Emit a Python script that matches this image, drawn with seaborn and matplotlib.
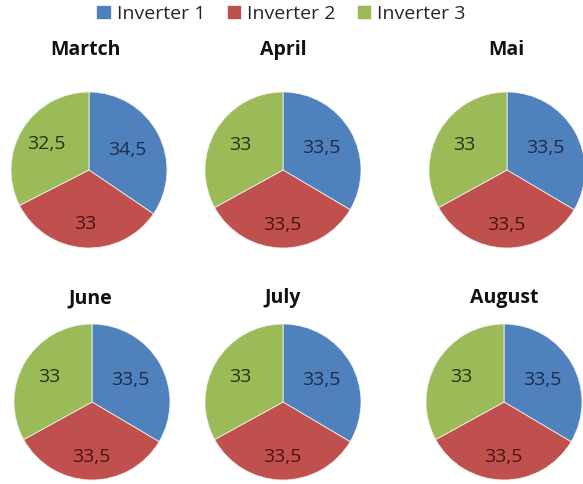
import matplotlib
matplotlib.use("Agg")
import matplotlib.pyplot as plt
import numpy as np
import seaborn as sns

# Share of production per inverter, by month
months = ["Martch", "April", "Mai", "June", "July", "August"]
inverters = ["Inverter 1", "Inverter 2", "Inverter 3"]
inverter_1 = [34.5, 33.5, 33.5, 33.5, 33.5, 33.5]
inverter_2 = [33.0, 33.5, 33.5, 33.5, 33.5, 33.5]
inverter_3 = [32.5, 33.0, 33.0, 33.0, 33.0, 33.0]

sns.set_theme(style="white")
plt.rcParams["font.family"] = ["Open Sans", "DejaVu Sans"]

palette = sns.color_palette(["#4F81BD", "#C0504D", "#9BBB59"])
label_colors = ["#1d2c4a", "#4a1414", "#25360f"]
label_radius = [0.56, 0.70, 0.64]

W, H = 583, 484
fig = plt.figure(figsize=(W / 100, H / 100), dpi=100)
fig.patch.set_facecolor("white")

R = 78
centers = [(89, 170), (283, 170), (507, 170),
           (92, 402), (283, 402), (504, 402)]
title_pos = [(85, 50), (283, 50), (506, 50),
             (90, 298), (283, 298), (504, 298)]


def fmt(v):
    return f"{v:g}".replace(".", ",")


legend_handles = None
for i, month in enumerate(months):
    cx, cy = centers[i]
    ax = fig.add_axes([(cx - R) / W, 1 - (cy + R) / H, 2 * R / W, 2 * R / H])
    vals = [inverter_1[i], inverter_2[i], inverter_3[i]]
    wedges, _ = ax.pie(vals, colors=palette, startangle=90, counterclock=False,
                       radius=1.0,
                       wedgeprops=dict(edgecolor="#eef0ea", linewidth=0.6))
    for k, (w, v) in enumerate(zip(wedges, vals)):
        w.set_clip_on(False)
        ang = np.deg2rad((w.theta1 + w.theta2) / 2)
        r = label_radius[k]
        ax.text(r * np.cos(ang), r * np.sin(ang), fmt(v), ha="center",
                va="center", fontsize=14, color=label_colors[k])
    ax.set_xlim(-1, 1)
    ax.set_ylim(-1, 1)
    ax.set_aspect("equal")
    ax.axis("off")
    if legend_handles is None:
        legend_handles = wedges
    tx, ty = title_pos[i]
    fig.text(tx / W, 1 - ty / H, month, ha="center", va="center",
             fontsize=14, fontweight="bold", color="#111111")

fig.legend(legend_handles, inverters, loc="center", ncol=3,
           bbox_to_anchor=(281 / W, 1 - 14 / H), frameon=False,
           fontsize=14, handlelength=0.75, handleheight=0.75,
           handletextpad=0.3, columnspacing=1.1, borderaxespad=0)

fig.savefig("out.png", dpi=100, facecolor="white")
